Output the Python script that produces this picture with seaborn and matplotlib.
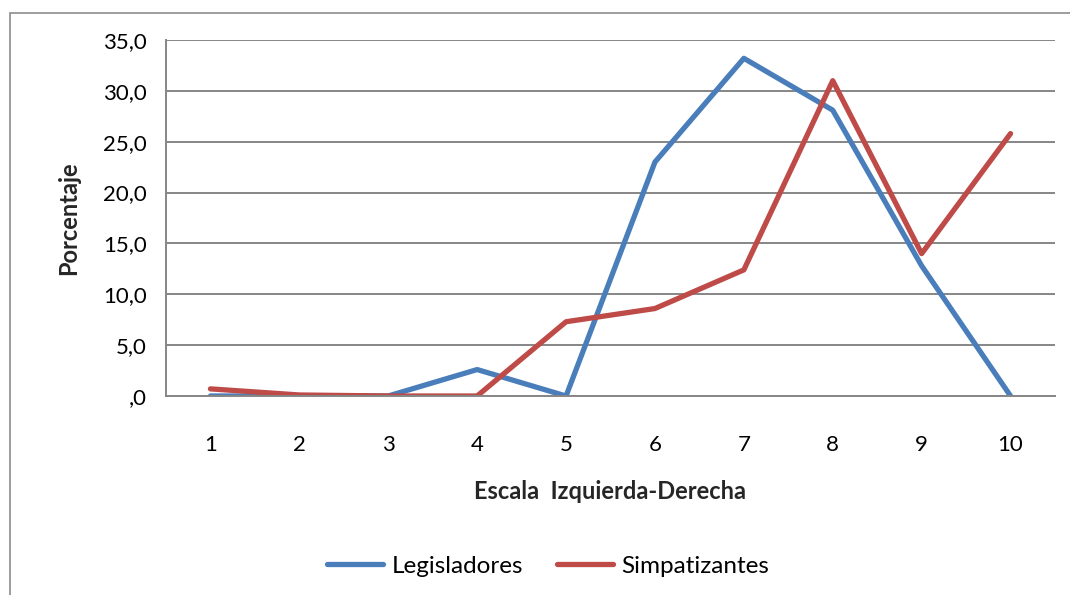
import numpy as np
import pandas as pd
import matplotlib.pyplot as plt
import seaborn as sns
from matplotlib.patches import Rectangle
from matplotlib.ticker import FixedLocator, FuncFormatter

escala = [1, 2, 3, 4, 5, 6, 7, 8, 9, 10]
legisladores = [0.0, 0.0, 0.0, 2.6, 0.0, 23.0, 33.2, 28.1, 12.8, 0.0]
simpatizantes = [0.7, 0.1, 0.0, 0.0, 7.3, 8.6, 12.4, 31.0, 14.0, 25.8]
series = ["Legisladores", "Simpatizantes"]

df = pd.DataFrame({
    "Escala": escala * 2,
    "Porcentaje": legisladores + simpatizantes,
    "Serie": [series[0]] * len(escala) + [series[1]] * len(escala),
})

sns.set_style("white")
plt.rcParams["font.family"] = ["Lato", "DejaVu Sans"]
plt.rcParams["text.color"] = "black"
plt.rcParams["xtick.color"] = "black"
plt.rcParams["ytick.color"] = "black"

fig = plt.figure(figsize=(10.7, 5.95), dpi=100)
ax = fig.add_axes([166 / 1070, 1 - 396 / 595, (1055 - 166) / 1070, (396 - 40) / 595])

# outer chart border like the spreadsheet chart frame
fig.patches.append(Rectangle((10 / 1070, -0.05), 1.05, 1 - 13 / 595 + 0.05,
                             transform=fig.transFigure, fill=False,
                             edgecolor="#8c8c8c", linewidth=1.2))

sns.lineplot(data=df, x="Escala", y="Porcentaje", hue="Serie",
             palette=["#4A7EBB", "#BE4B48"], linewidth=3.8, ax=ax,
             solid_capstyle="round")

ax.set_xlim(0.5, 10.5)
ax.set_ylim(0, 35)
ax.set_yticks(np.arange(0, 36, 5))
ax.yaxis.set_major_formatter(FuncFormatter(
    lambda v, p: ",0" if v == 0 else f"{v:.1f}".replace(".", ",")))
ax.set_xticks(escala)
ax.xaxis.set_minor_locator(FixedLocator(np.arange(0.5, 11, 1)))
ax.tick_params(axis="x", which="major", length=0, pad=28, labelsize=16)
ax.tick_params(axis="x", which="minor", length=8, width=1.2, color="#868686", direction="out")
ax.tick_params(axis="y", length=8, width=1.2, color="#868686", labelcolor="black",
               labelsize=16, pad=6)
ax.grid(axis="y", color="#868686", linewidth=1.4)
ax.set_axisbelow(True)

for s in ["top", "right"]:
    ax.spines[s].set_visible(False)
for s in ["left", "bottom"]:
    ax.spines[s].set_color("#868686")
    ax.spines[s].set_linewidth(1.4)

ax.set_xlabel("Escala  Izquierda-Derecha", fontsize=17, fontweight="bold", labelpad=18)
ax.set_ylabel("Porcentaje", fontsize=17, fontweight="bold", labelpad=16)

ax.legend(title=None, loc="center", bbox_to_anchor=(548 / 1070, 1 - 566 / 595),
          bbox_transform=fig.transFigure, ncol=2, frameon=False, fontsize=17.5,
          handlelength=2.3, columnspacing=1.4, handletextpad=0.35)

fig.savefig("out.png", dpi=100)
